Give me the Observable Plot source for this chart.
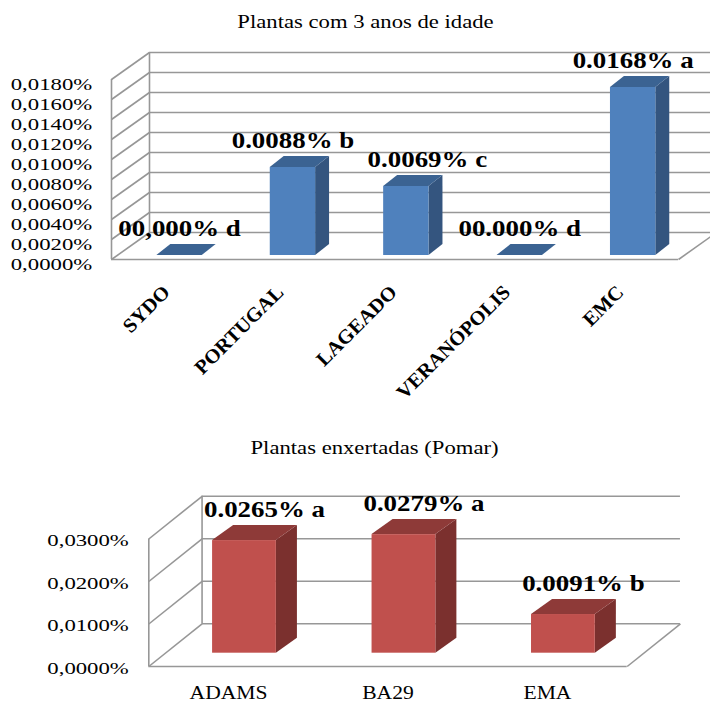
<!DOCTYPE html>
<html>
<head>
<meta charset="utf-8">
<script src="https://cdn.jsdelivr.net/npm/d3@7"></script>
<script src="https://cdn.jsdelivr.net/npm/@observablehq/plot@0.6"></script>
<style>
  html, body { margin: 0; padding: 0; background: #fff; overflow: hidden; }
  #charts { width: 710px; }
  #charts svg { display: block; overflow: hidden; }
</style>
</head>
<body>
<div id="charts"></div>
<script>
// Plantas com 3 anos de idade
const youngTitle = "Plantas com 3 anos de idade";
const youngCategories = ["SYDO", "PORTUGAL", "LAGEADO", "VERANÓPOLIS", "EMC"];
const youngValues = [0, 0.0088, 0.0069, 0, 0.0168];
const youngLabels = ["00,000% d", "0.0088% b", "0.0069% c", "00.000% d", "0.0168% a"];
const youngTicks = [0, 0.002, 0.004, 0.006, 0.008, 0.010, 0.012, 0.014, 0.016, 0.018];

// Plantas enxertadas (Pomar)
const graftTitle = "Plantas enxertadas (Pomar)";
const graftCategories = ["ADAMS", "BA29", "EMA"];
const graftValues = [0.0265, 0.0279, 0.0091];
const graftLabels = ["0.0265% a", "0.0279% a", "0.0091% b"];
const graftTicks = [0, 0.01, 0.02, 0.03];

const FONT = "'Liberation Serif', 'Times New Roman', Times, serif";
const GRID = "#979797";
const pct = (v) => v.toFixed(4).replace(".", ",") + "%";

// Widen the glyphs of a group of labels horizontally, about each text's anchor.
function stretchText(svg, role, sx) {
  svg.querySelectorAll(`g[aria-description="${role}"] text`).forEach((t) => {
    const tr = t.getAttribute("transform") || "";
    t.setAttribute("transform", `${tr} scale(${sx},1)`);
  });
}

// A column chart drawn with an oblique 3D look: back wall, left wall, floor,
// and each column with a front face, a side face and a top face.
function chart3d(cfg) {
  const { categories, values, labels, ticks, title, geo, colors, text } = cfg;
  const n = categories.length;
  const top = ticks[ticks.length - 1];
  const rows = categories.map((c, i) => ({ i, category: c, value: values[i], label: labels[i] }));

  const sidePts = rows.flatMap((d) => [
    { i: d.i, x: d.i + geo.barX1, y1: geo.barBase, y2: geo.barBase + d.value },
    { i: d.i, x: d.i + geo.barX1 + geo.barDx, y1: geo.barBase + geo.barDy, y2: geo.barBase + d.value + geo.barDy }
  ]);
  const topPts = rows.flatMap((d) => [
    { i: d.i, y: geo.barBase + d.value, x1: d.i + geo.barX0, x2: d.i + geo.barX1 },
    { i: d.i, y: geo.barBase + d.value + geo.barDy, x1: d.i + geo.barX0 + geo.barDx, x2: d.i + geo.barX1 + geo.barDx }
  ]);
  const grid = { stroke: GRID, strokeWidth: 1.6 };
  const nudged = (d) => text.nudge && text.nudge.category === d.category;
  const serif = { fontFamily: FONT, fill: "black" };

  const svg = Plot.plot({
    width: 710,
    height: cfg.height,
    marginLeft: cfg.margin.left,
    marginRight: cfg.margin.right,
    marginTop: cfg.margin.top,
    marginBottom: cfg.margin.bottom,
    x: { domain: [0, n], axis: null },
    y: { domain: [0, top], axis: null },
    style: { fontFamily: FONT, background: "white", overflow: "hidden", color: "black" },
    marks: [
      // back wall gridlines
      Plot.ruleY(ticks, { y: (t) => t + geo.wallDy, x1: geo.wallDx, x2: n + geo.wallDx, ...grid }),
      // left wall: edges and receding gridlines
      Plot.ruleX([0], { y1: 0, y2: top, ...grid }),
      Plot.ruleX([geo.wallDx], { y1: geo.wallDy, y2: top + geo.wallDy, ...grid }),
      Plot.link(ticks, { x1: 0, y1: (t) => t, x2: geo.wallDx, y2: (t) => t + geo.wallDy, ...grid }),
      // floor: front edge and right edge
      Plot.ruleY([0], { x1: 0, x2: n, ...grid }),
      Plot.link([n], { x1: (d) => d, y1: 0, x2: (d) => d + geo.wallDx, y2: geo.wallDy, ...grid }),
      // columns
      Plot.areaY(sidePts, { x: "x", y1: "y1", y2: "y2", z: "i", fill: colors.side }),
      Plot.rect(rows, {
        x1: (d) => d.i + geo.barX0, x2: (d) => d.i + geo.barX1,
        y1: geo.barBase, y2: (d) => geo.barBase + d.value, fill: colors.front
      }),
      Plot.areaX(topPts, { y: "y", x1: "x1", x2: "x2", z: "i", fill: colors.top }),
      // value labels
      Plot.text(rows, {
        filter: (d) => !nudged(d),
        x: (d) => d.i + (geo.barX0 + geo.barX1) / 2, y: (d) => geo.barBase + d.value, text: "label",
        lineAnchor: "bottom", dx: text.valueDx, dy: text.valueDy,
        fontSize: 23, fontWeight: "bold", ...serif, ariaDescription: "value-label"
      }),
      Plot.text(rows, {
        filter: nudged,
        x: (d) => d.i + (geo.barX0 + geo.barX1) / 2, y: (d) => geo.barBase + d.value, text: "label",
        lineAnchor: "bottom", dx: text.valueDx + (text.nudge ? text.nudge.dx : 0), dy: text.valueDy,
        fontSize: 23, fontWeight: "bold", ...serif, ariaDescription: "value-label"
      }),
      // category labels
      Plot.text(rows, {
        x: (d) => d.i + 0.5, y: 0, text: "category",
        rotate: text.catRotate, textAnchor: text.catRotate ? "end" : "middle", lineAnchor: "bottom",
        dx: text.catDx, dy: text.catDy,
        fontSize: text.catSize, fontWeight: text.catWeight, ...serif, ariaDescription: "category-label"
      }),
      // value axis labels
      Plot.text(ticks, {
        x: 0, y: (t) => t, text: pct, textAnchor: "end",
        dx: text.tickDx, dy: text.tickDy, fontSize: 17.5, ...serif, ariaDescription: "tick-label"
      }),
      // title
      Plot.text([title], {
        frameAnchor: "top", text: (d) => d, lineAnchor: "bottom",
        dx: text.titleDx, dy: text.titleDy, fontSize: 18, ...serif, ariaDescription: "chart-title"
      })
    ]
  });

  stretchText(svg, "value-label", 1.17);
  stretchText(svg, "category-label", text.catStretch);
  stretchText(svg, "tick-label", 1.3);
  stretchText(svg, "chart-title", 1.26);
  return svg;
}

const host = document.getElementById("charts");

host.appendChild(chart3d({
  categories: youngCategories, values: youngValues, labels: youngLabels,
  ticks: youngTicks, title: youngTitle,
  height: 420,
  margin: { left: 111, right: 32, top: 79, bottom: 161 },
  geo: { wallDx: 0.335, wallDy: 0.0027, barX0: 0.40, barX1: 0.80, barBase: 0.0004, barDx: 0.123, barDy: 0.0011 },
  colors: { front: "#4f81bd", side: "#34557f", top: "#3b6392" },
  text: {
    valueDx: 0, valueDy: -20, nudge: { category: "LAGEADO", dx: 21 },
    catRotate: -45, catDx: 3, catDy: 34, catSize: 20, catWeight: "bold", catStretch: 1.03,
    tickDx: -19.3, tickDy: 5,
    titleDx: -29.5, titleDy: -51.3
  }
}));

host.appendChild(chart3d({
  categories: graftCategories, values: graftValues, labels: graftLabels,
  ticks: graftTicks, title: graftTitle,
  height: 282,
  margin: { left: 148.3, right: 83.3, top: 118.5, bottom: 36 },
  geo: { wallDx: 0.334, wallDy: 0.01005, barX0: 0.40, barX1: 0.80, barBase: 0.00313, barDx: 0.132, barDy: 0.00353 },
  colors: { front: "#c0504d", side: "#7b302e", top: "#8e3a38" },
  text: {
    valueDx: 20, valueDy: -24, nudge: null,
    catRotate: 0, catDx: 0, catDy: 32, catSize: 18, catWeight: "normal", catStretch: 1.2,
    tickDx: -20, tickDy: 1.5,
    titleDx: -13.5, titleDy: -85.5
  }
}));
</script>
</body>
</html>
